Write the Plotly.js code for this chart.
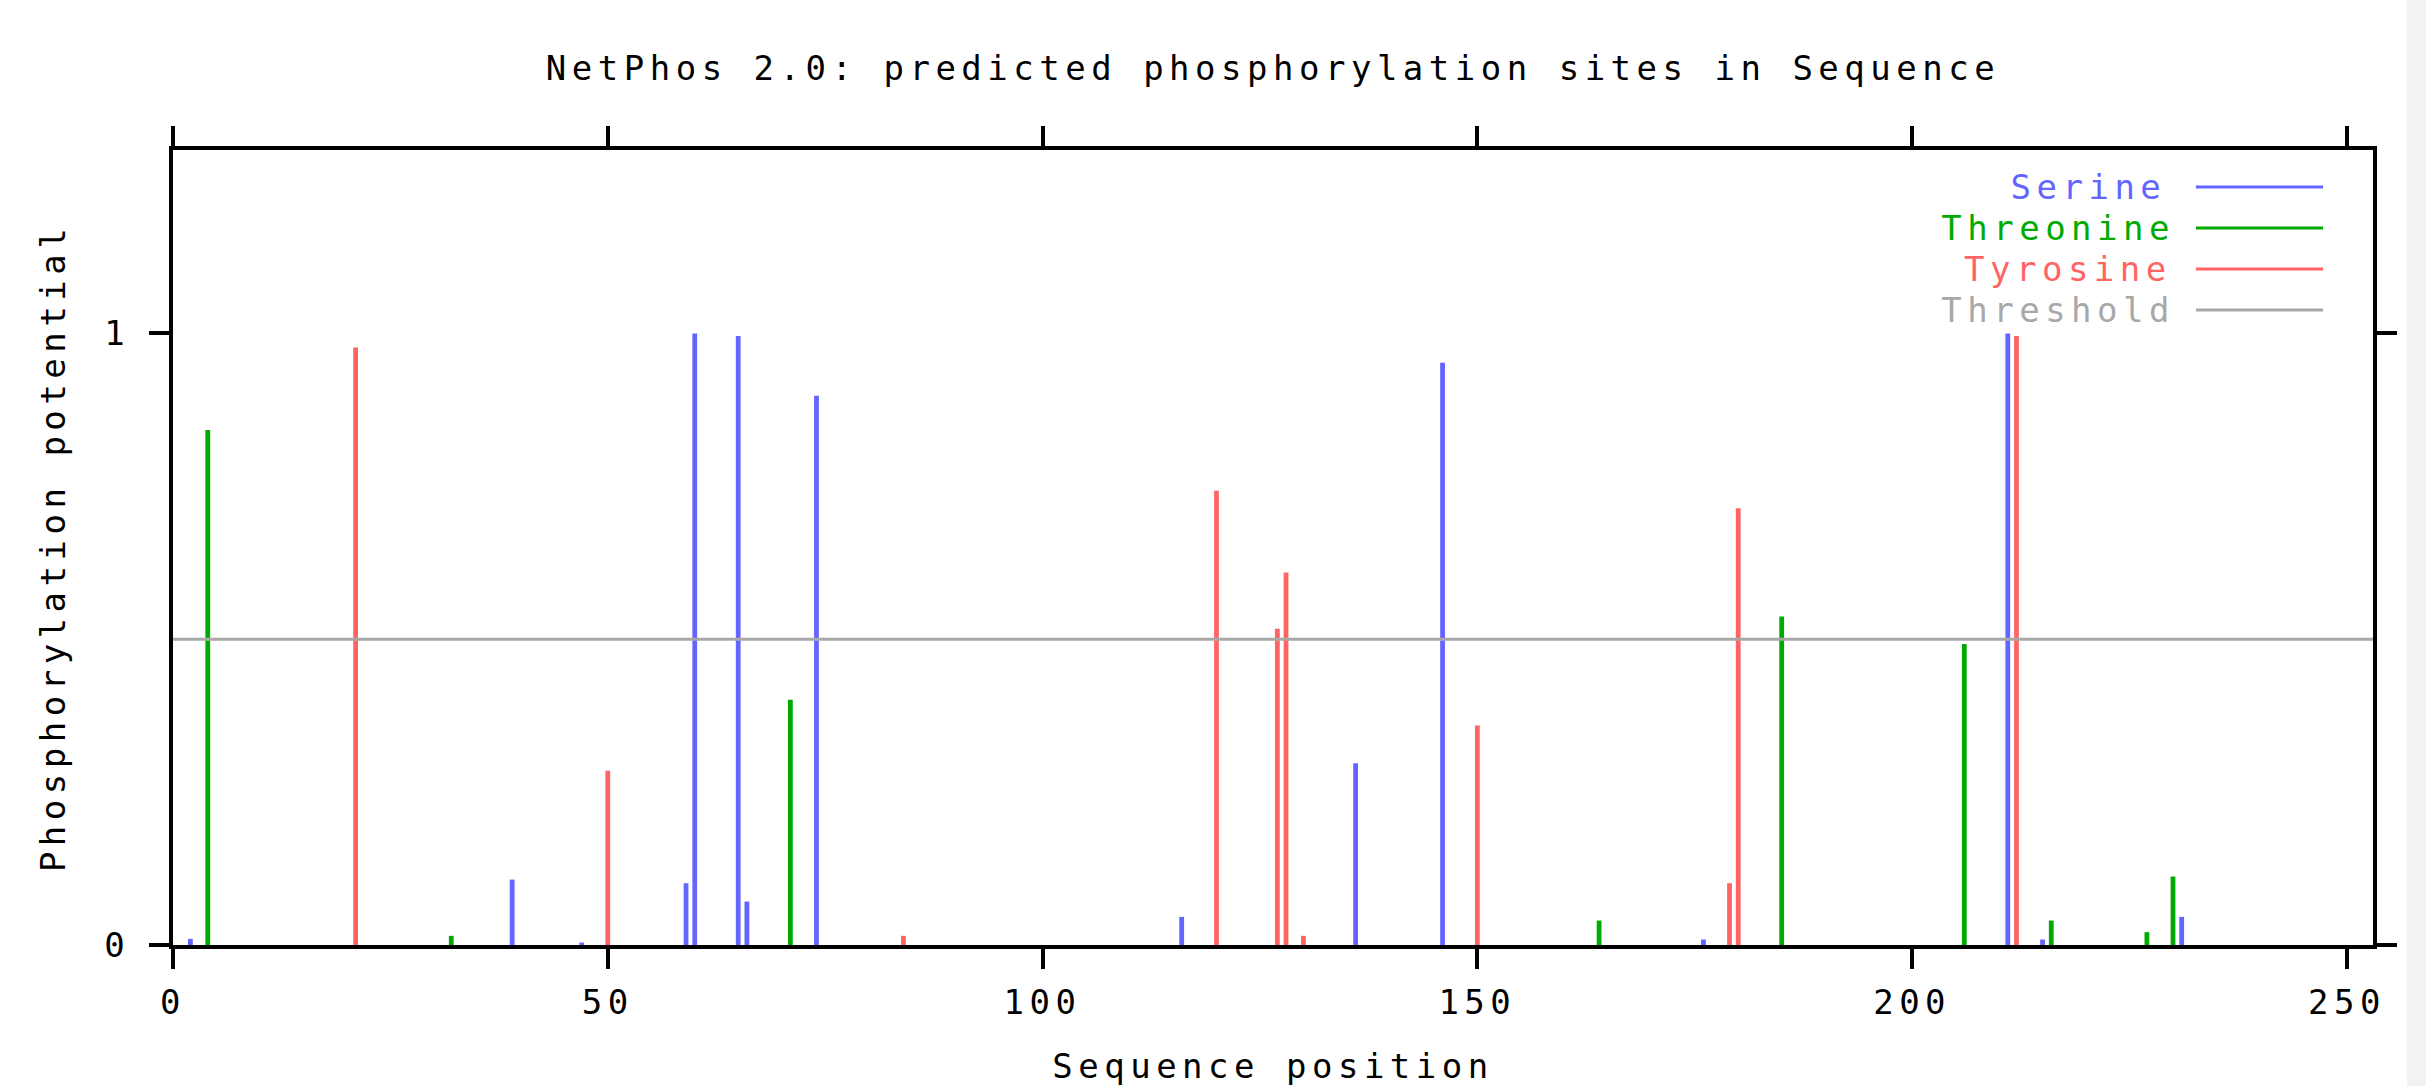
<!DOCTYPE html>
<html>
<head>
<meta charset="utf-8">
<script src="https://cdn.plot.ly/plotly-3.0.1.min.js"></script>
<style>
  html, body { margin: 0; padding: 0; background: #ffffff; }
  #chart { width: 2426px; height: 1086px; }
  #chart svg text { letter-spacing: 5.5px; }
</style>
</head>
<body>
<div id="chart"></div>
<script>
// ---- Data ----
const serinePos = [2, 39, 47, 59, 60, 65, 66, 74, 116, 136, 146, 176, 211, 215, 231];
const serineVal = [0.010, 0.107, 0.004, 0.101, 1.000, 0.996, 0.071, 0.898, 0.046, 0.297, 0.952, 0.009, 1.000, 0.009, 0.046];

const threoninePos = [4, 32, 71, 164, 185, 206, 216, 227, 230];
const threonineVal = [0.842, 0.015, 0.401, 0.040, 0.537, 0.492, 0.040, 0.021, 0.112];

const tyrosinePos = [21, 50, 84, 120, 127, 128, 130, 150, 179, 180, 212];
const tyrosineVal = [0.977, 0.285, 0.015, 0.743, 0.517, 0.609, 0.015, 0.359, 0.101, 0.714, 0.996];

const threshold = 0.5;

const xTickVals = [0, 50, 100, 150, 200, 250];
const xTickText = ['0', '50', '100', '150', '200', '250'];
const yTickVals = [0, 1];
const yTickText = ['0', '1'];

const seriesNames = ['Serine', 'Threonine', 'Tyrosine', 'Threshold'];
const seriesColors = ['#6464ff', '#00aa00', '#ff6464', '#a8a8a8'];

// ---- Styling ----
const FONT = 'DejaVu Sans Mono, Liberation Mono, monospace';
const FS = 34;

function barTrace(xs, ys, color, name) {
  return {
    type: 'bar',
    x: xs,
    y: ys,
    name: name,
    width: 0.55,
    marker: { color: color, line: { width: 0 } },
    hoverinfo: 'x+y+name'
  };
}

const data = [
  barTrace(serinePos, serineVal, seriesColors[0], seriesNames[0]),
  barTrace(threoninePos, threonineVal, seriesColors[1], seriesNames[1]),
  barTrace(tyrosinePos, tyrosineVal, seriesColors[2], seriesNames[2])
];

// legend drawn gnuplot-style: right aligned label, sample line on its right
const legendRowsY = [0.9535, 0.9019, 0.8503, 0.7987];
const annotations = seriesNames.map((n, i) => ({
  xref: 'paper', yref: 'paper',
  x: 0.8995, y: legendRowsY[i],
  xanchor: 'right', yanchor: 'middle',
  text: n, showarrow: false,
  font: { family: FONT, size: FS, color: seriesColors[i] }
}));

const shapes = seriesNames.map((n, i) => ({
  type: 'line', xref: 'paper', yref: 'paper',
  x0: 0.9195, x1: 0.9773, y0: legendRowsY[i], y1: legendRowsY[i],
  line: { color: seriesColors[i], width: 3 }
}));

// threshold line
shapes.push({
  type: 'line', xref: 'paper', yref: 'y',
  x0: 0, x1: 1, y0: threshold, y1: threshold,
  line: { color: seriesColors[3], width: 3 },
  layer: 'above'
});

// light grey strip at the right edge of the picture
shapes.push({
  type: 'rect', xref: 'paper', yref: 'paper',
  x0: 1.0155, x1: 1.03, y0: -0.2, y1: 1.2,
  fillcolor: '#f2f2f2', line: { width: 0 }, layer: 'below'
});

const axisCommon = {
  showline: true,
  linecolor: '#000000',
  linewidth: 4,
  mirror: 'allticks',
  ticks: 'outside',
  ticklen: 20,
  tickwidth: 4,
  tickcolor: '#000000',
  showgrid: false,
  zeroline: false,
  tickfont: { family: FONT, size: FS, color: '#000000' }
};

const layout = {
  width: 2426,
  height: 1086,
  margin: { l: 173, r: 53, t: 150, b: 141 },
  paper_bgcolor: '#ffffff',
  plot_bgcolor: '#ffffff',
  showlegend: false,
  barmode: 'overlay',
  title: {
    text: 'NetPhos 2.0: predicted phosphorylation sites in Sequence',
    font: { family: FONT, size: FS, color: '#000000' },
    xref: 'paper', x: 0.5, xanchor: 'center',
    yref: 'container', y: 0.9374, yanchor: 'middle'
  },
  xaxis: Object.assign({}, axisCommon, {
    range: [0, 253],
    tickmode: 'array',
    tickvals: xTickVals,
    ticktext: xTickText,
    ticklabelstandoff: 4,
    title: {
      text: 'Sequence position',
      font: { family: FONT, size: FS, color: '#000000' },
      standoff: 48
    }
  }),
  yaxis: Object.assign({}, axisCommon, {
    range: [0, 1.3],
    tickmode: 'array',
    tickvals: yTickVals,
    ticktext: yTickText,
    ticklabelstandoff: 12,
    title: {
      text: 'Phosphorylation potential',
      font: { family: FONT, size: FS, color: '#000000' },
      standoff: 35
    }
  }),
  annotations: annotations,
  shapes: shapes
};

Plotly.newPlot('chart', data, layout, { displayModeBar: false, staticPlot: true });
</script>
</body>
</html>
